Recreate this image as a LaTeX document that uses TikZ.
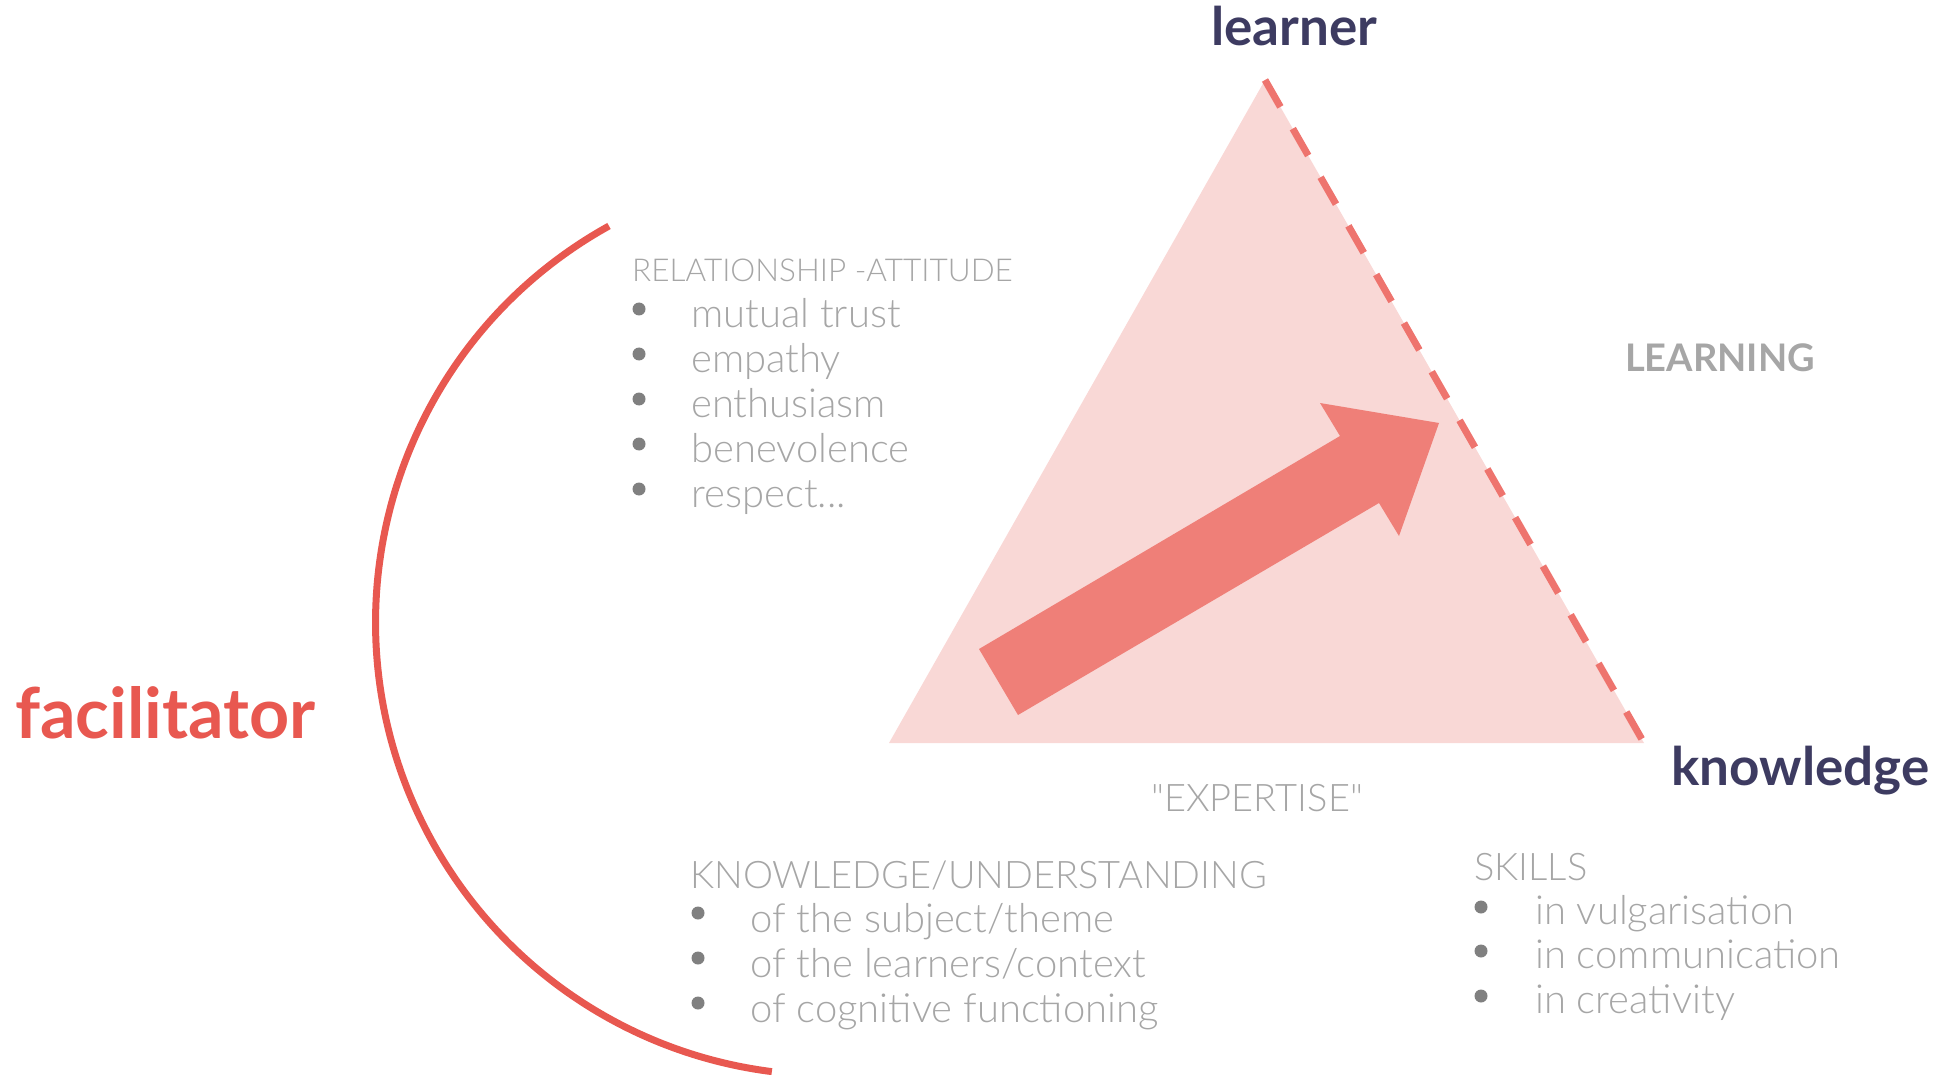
\documentclass[tikz,border=0pt]{standalone}
\usepackage{fontspec}
\setmainfont{Lato}
\IfFontExistsTF{Lato Light}{\newfontfamily\lightfont{Lato Light}}{\newfontfamily\lightfont{Lato}}

\definecolor{navy}{HTML}{3D3B61}
\definecolor{facired}{HTML}{E85850}
\definecolor{trianglepink}{HTML}{F9D8D6}
\definecolor{arrowpink}{HTML}{EF7F78}
\definecolor{dashpink}{HTML}{EE746E}
\definecolor{textgray}{HTML}{A6A6A6}
\definecolor{bulletgray}{HTML}{808080}

\tikzset{
  label text/.style={inner sep=0pt, anchor=base west},
  pole/.style={label text, text=navy, font=\bfseries\fontsize{53}{62}\selectfont},
  group head/.style={label text, text=textgray, font=\lightfont\fontsize{38}{44}\selectfont},
  list item/.style={label text, text=textgray, font=\lightfont\fontsize{40}{48}\selectfont},
  dot/.style={fill=bulletgray}
}

\begin{document}
\begin{tikzpicture}[x=1pt, y=-1pt]
			\useasboundingbox (0, 0) rectangle (1936, 1075);

			% triangle
			\coordinate (learnerCorner) at (1265, 80);
			\coordinate (expertiseCorner) at (889, 743);
			\coordinate (knowledgeCorner) at (1644, 743);
			\fill[trianglepink] (learnerCorner) -- (expertiseCorner) -- (knowledgeCorner) -- cycle;
			\draw[dashpink, line width=7pt, dash pattern=on 31pt off 25pt]
			(learnerCorner) -- (knowledgeCorner);

			% big arrow
			\fill[arrowpink] (979, 649) -- (1340, 436) -- (1320, 403) -- (1439, 423)
			-- (1399, 536) -- (1379, 503) -- (1018, 715) -- cycle;

			% facilitator arc
			\draw[facired, line width=7pt] (609, 226)
			arc[start angle=119, end angle=262.8, radius=453pt];

			\node[pole] (learner) at (1211, 46) {learner};
			\node[pole] (knowledge) at (1671, 785) {knowledge};
			\node[label text, text=facired, font=\bfseries\fontsize{70}{82}\selectfont] (facilitator) at (15, 738) {facilitator};
			\node[label text, text=textgray, font=\bfseries\fontsize{38}{46}\selectfont] (learning) at (1625, 371) {LEARNING};
			\node[group head] (expertise) at (1151, 811) {"EXPERTISE"};

			% relationship - attitude
			\node[group head, font=\lightfont\fontsize{31.5}{38}\selectfont] (relation) at (632, 282) {RELATIONSHIP -ATTITUDE};
			\fill[dot] (639, 309) circle (6.5pt);
			\node[list item] (trust) at (691, 327) {mutual trust};
			\fill[dot] (639, 354) circle (6.5pt);
			\node[list item] (empathy) at (691, 372) {empathy};
			\fill[dot] (639, 399) circle (6.5pt);
			\node[list item] (enthusiasm) at (691, 417) {enthusiasm};
			\fill[dot] (639, 444) circle (6.5pt);
			\node[list item] (benevolence) at (691, 462) {benevolence};
			\fill[dot] (639, 489) circle (6.5pt);
			\node[list item] (respect) at (691, 507) {respect...};

			% knowledge - understanding
			\node[group head] (understanding) at (690, 888) {KNOWLEDGE/UNDERSTANDING};
			\fill[dot] (698, 913) circle (6.5pt);
			\node[list item] (subject) at (750, 932) {of the subject/theme};
			\fill[dot] (698, 958) circle (6.5pt);
			\node[list item] (context) at (750, 977) {of the learners/context};
			\fill[dot] (698, 1003) circle (6.5pt);
			\node[list item] (cognitive) at (750, 1022) {of cognitive functioning};

			% skills
			\node[group head] (skills) at (1474, 880) {SKILLS};
			\fill[dot] (1481, 907) circle (6.5pt);
			\node[list item] (vulgarisation) at (1535, 924) {in vulgarisation};
			\fill[dot] (1481, 951) circle (6.5pt);
			\node[list item] (communication) at (1535, 968) {in communication};
			\fill[dot] (1481, 996) circle (6.5pt);
			\node[list item] (creativity) at (1535, 1013) {in creativity};

		\end{tikzpicture}
\end{document}
